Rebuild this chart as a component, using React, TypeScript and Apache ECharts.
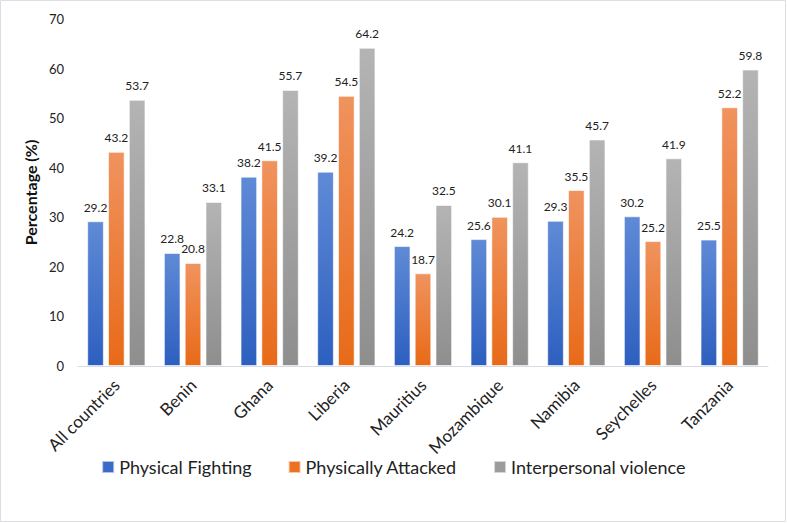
import React, { useEffect, useRef } from "react";
import * as echarts from "echarts";

const categories = ["All countries", "Benin", "Ghana", "Liberia", "Mauritius", "Mozambique", "Namibia", "Seychelles", "Tanzania"];
const physicalFighting = [29.2, 22.8, 38.2, 39.2, 24.2, 25.6, 29.3, 30.2, 25.5];
const physicallyAttacked = [43.2, 20.8, 41.5, 54.5, 18.7, 30.1, 35.5, 25.2, 52.2];
const interpersonalViolence = [53.7, 33.1, 55.7, 64.2, 32.5, 41.1, 45.7, 41.9, 59.8];
const seriesNames = ["Physical Fighting", "Physically Attacked", "Interpersonal violence"];

const FONT = "Lato, 'Open Sans', sans-serif";

function grad(top: string, bottom: string) {
  return new echarts.graphic.LinearGradient(0, 0, 0, 1, [
    { offset: 0, color: top },
    { offset: 1, color: bottom },
  ]);
}

export default function App() {
  const ref = useRef<HTMLDivElement>(null);
  useEffect(() => {
    document.body.style.margin = "0";
    const chart = echarts.init(ref.current!, null, { renderer: "svg" });
    const mk = (name: string, data: number[], top: string, bottom: string, legendColor: string) => ({
      name,
      type: "bar",
      data,
      barGap: "25%",
      barCategoryGap: "24%",
      itemStyle: { color: grad(top, bottom), borderColor: "rgba(255,255,255,0.6)", borderWidth: 1 },
      label: {
        show: true,
        position: "top",
        distance: 8,
        fontFamily: FONT,
        fontSize: 12,
        color: "#222",
        formatter: (p: any) => p.value.toFixed(1),
      },
      color: legendColor,
    });
    chart.setOption({
      animation: false,
      backgroundColor: "#fff",
      grid: { left: 78, right: 19, top: 19, bottom: 157 },
      legend: {
        bottom: 42,
        left: "center",
        itemWidth: 12,
        itemHeight: 12,
        itemGap: 36,
        icon: "rect",
        textStyle: { fontFamily: FONT, fontSize: 18, color: "#222" },
        data: seriesNames.map((n, i) => ({ name: n, itemStyle: { color: ["#3a6bc6", "#ed7123", "#9c9c9c"][i] } })),
      },
      xAxis: {
        type: "category",
        data: categories,
        axisTick: { show: false },
        axisLine: { lineStyle: { color: "#d6dce5" } },
        axisLabel: { rotate: 45, fontFamily: FONT, fontSize: 17, color: "#222", margin: 16, interval: 0 },
      },
      yAxis: {
        type: "value",
        min: 0,
        max: 70,
        interval: 10,
        name: "Percentage (%)",
        nameLocation: "middle",
        nameGap: 38,
        nameTextStyle: { fontFamily: FONT, fontSize: 16, fontWeight: "bold", color: "#111" },
        splitLine: { show: false },
        axisLine: { show: false },
        axisTick: { show: false },
        axisLabel: { fontFamily: FONT, fontSize: 13, color: "#222", margin: 14 },
      },
      series: [
        mk(seriesNames[0], physicalFighting, "#5f8ad6", "#2d5fc0", "#3a6bc6"),
        mk(seriesNames[1], physicallyAttacked, "#f0935e", "#e86a18", "#ed7123"),
        mk(seriesNames[2], interpersonalViolence, "#b4b4b4", "#8e8e8e", "#9c9c9c"),
      ],
      graphic: [
        {
          type: "rect",
          shape: { x: 0.5, y: 0.5, width: 785, height: 521 },
          style: { fill: "none", stroke: "#d9dee7", lineWidth: 1 },
          silent: true,
        },
      ],
    });
    return () => chart.dispose();
  }, []);
  return <div ref={ref} style={{ position: "absolute", left: 0, top: 0, width: 787, height: 523 }} />;
}
